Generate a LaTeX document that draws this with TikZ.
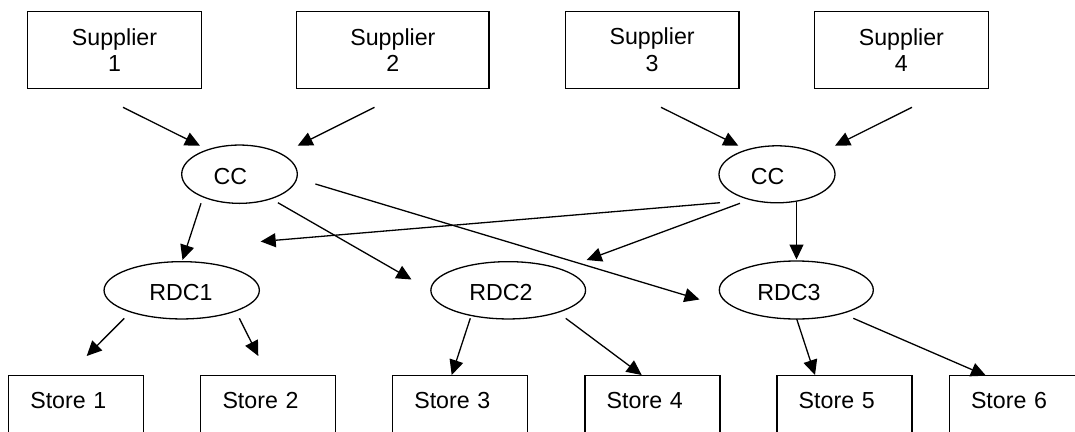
\documentclass[tikz,border=0pt]{standalone}
\usepackage{fontspec}
\setmainfont{Liberation Sans}
\usetikzlibrary{arrows.meta,shapes.geometric}
\tikzset{
  txt/.style={font=\fontsize{23.2}{26.7}\selectfont},
  sbox/.style={txt, draw, line width=1.3pt, outer sep=0pt, minimum height=76.6pt, align=center, inner sep=0pt},
  storebox/.style={txt, draw, line width=1.3pt, outer sep=0pt, anchor=north west, text width=91.6pt, inner xsep=21.7pt, inner ysep=0pt, text height=32.6pt, text depth=45pt, align=left},
  oval/.style={draw, ellipse, line width=1.3pt, outer sep=0pt, inner sep=0pt},
  lbl/.style={txt, anchor=base, inner sep=0pt},
  conn/.style={line width=1.3pt, -{Triangle[length=15pt,width=14pt]}},
}
\begin{document}
\begin{tikzpicture}[x=1pt,y=-1pt]
\useasboundingbox (0,0) rectangle (1075,431);
\clip (0,0) rectangle (1075,431);
% suppliers
\node[sbox, minimum width=173.9pt] (s1) at (114.5,50) {Supplier\\1};
\node[sbox, minimum width=192.2pt] (s2) at (392.9,50) {Supplier\\2};
\node[sbox, minimum width=173.6pt] (s3) at (652.1,50) {Supplier\\3};
\node[sbox, minimum width=173.6pt] (s4) at (901.4,50) {Supplier\\4};
% consolidation centres
\node[oval, minimum width=115.6pt, minimum height=58.3pt] (cc1) at (239.5,174.2) {};
\node[lbl] (cc1t) at (230.3,184) {CC};
\node[oval, minimum width=116pt, minimum height=57pt] (cc2) at (777,174.3) {};
\node[lbl] (cc2t) at (767.5,184.3) {CC};
% RDCs
\node[oval, minimum width=155.3pt, minimum height=57.3pt] (rdc1) at (181.7,290.3) {};
\node[lbl] (rdc1t) at (181,300) {RDC1};
\node[oval, minimum width=154.7pt, minimum height=57.3pt] (rdc2) at (508.2,290.3) {};
\node[lbl] (rdc2t) at (501,300.3) {RDC2};
\node[oval, minimum width=154pt, minimum height=58pt] (rdc3) at (796.3,290) {};
\node[lbl] (rdc3t) at (789,300.3) {RDC3};
% stores
\node[storebox] (st1) at (8.6,375.7) {Store 1};
\node[storebox] (st2) at (200.8,375.7) {Store 2};
\node[storebox] (st3) at (392.6,375.7) {Store 3};
\node[storebox] (st4) at (585,375.7) {Store 4};
\node[storebox] (st5) at (777,375.7) {Store 5};
\node[storebox] (st6) at (949.3,375.7) {Store 6};
% connector end points
\coordinate (a1) at (123,107.3);   \coordinate (b1) at (200,145.7);
\coordinate (a2) at (374.5,107.3); \coordinate (b2) at (297.7,145.7);
\coordinate (a3) at (661,107.3);   \coordinate (b3) at (738.3,145.7);
\coordinate (a4) at (912,107.3);   \coordinate (b4) at (835,145.7);
\coordinate (c1) at (201,203.3);   \coordinate (d1) at (182.5,260);
\coordinate (c2) at (277.9,202.7); \coordinate (d2) at (411.5,279.5);
\coordinate (c3) at (315.4,184);   \coordinate (d3) at (699.5,299.5);
\coordinate (e1) at (720,202.7);   \coordinate (f1) at (260.7,241.5);
\coordinate (e2) at (740,203.3);   \coordinate (f2) at (586.7,260);
\coordinate (e3) at (796.5,202);   \coordinate (f3) at (796.5,259.5);
\coordinate (g1) at (124.3,318.3); \coordinate (h1) at (86.7,356);
\coordinate (g2) at (239.3,318.3); \coordinate (h2) at (258.3,356);
\coordinate (g3) at (470.3,318.3); \coordinate (h3) at (451.7,375);
\coordinate (g4) at (565.7,318.3); \coordinate (h4) at (641.7,375);
\coordinate (g5) at (796.7,319);   \coordinate (h5) at (815,375);
\coordinate (g6) at (853.3,318.3); \coordinate (h6) at (986,375.7);
% connectors
\draw[conn] (a1) -- (b1);
\draw[conn] (a2) -- (b2);
\draw[conn] (a3) -- (b3);
\draw[conn] (a4) -- (b4);
\draw[conn] (c1) -- (d1);
\draw[conn] (c2) -- (d2);
\draw[conn] (c3) -- (d3);
\draw[conn] (e1) -- (f1);
\draw[conn] (e2) -- (f2);
\draw[conn] (e3) -- (f3);
\draw[conn] (g1) -- (h1);
\draw[conn] (g2) -- (h2);
\draw[conn] (g3) -- (h3);
\draw[conn] (g4) -- (h4);
\draw[conn] (g5) -- (h5);
\draw[conn] (g6) -- (h6);
\end{tikzpicture}
\end{document}
